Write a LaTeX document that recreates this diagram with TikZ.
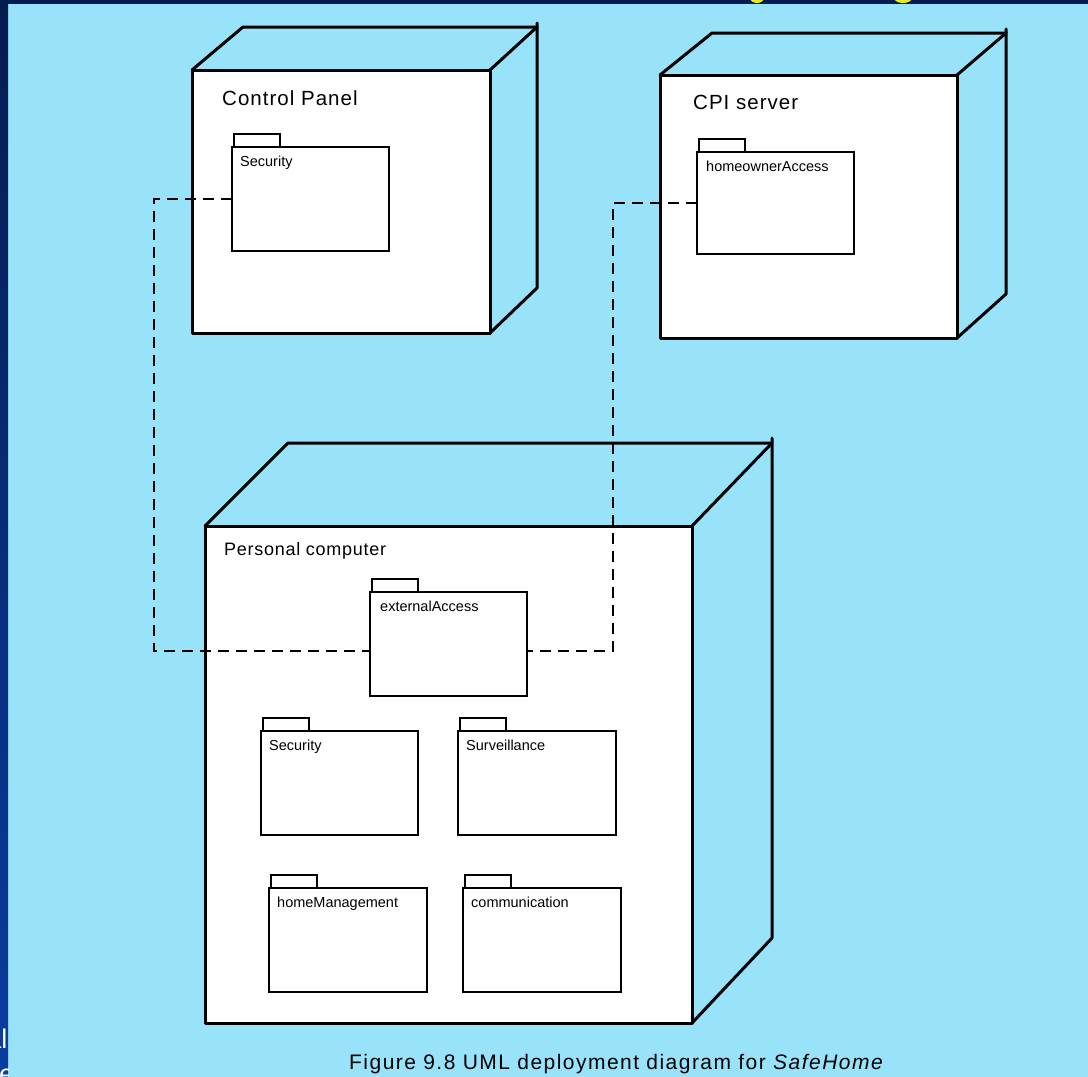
\documentclass[tikz,border=0pt]{standalone}
\usepackage{fontspec}
\setmainfont{Liberation Sans}
\newfontfamily\titlefont[LetterSpace=5]{Liberation Sans}
\newfontfamily\nodefont[LetterSpace=4]{Liberation Sans}
\newfontfamily\capfont[LetterSpace=7]{Liberation Sans}
\definecolor{sky}{RGB}{152,227,250}
\definecolor{navy}{RGB}{5,28,80}
\definecolor{royal}{RGB}{10,60,160}
\definecolor{gold}{RGB}{235,235,20}
\tikzset{
  devface/.style={draw, fill=white, line width=3pt, inner sep=0pt, outer sep=0pt,
    anchor=north west, line join=round},
  devedge/.style={line width=3pt, line join=round, line cap=round},
  pkgbox/.style={draw, fill=white, line width=2.4pt, inner sep=0pt, outer sep=0pt,
    anchor=north west, minimum width=157pt, minimum height=104pt},
  pkgtab/.style={draw, fill=white, line width=2.4pt},
  pkglabel/.style={anchor=base west, inner sep=0pt, font=\fontsize{14.5}{17}\selectfont},
  devtitle/.style={anchor=base west, inner sep=0pt, font=\titlefont\fontsize{20.5}{24}\selectfont},
  deplink/.style={line width=2.8pt, dash pattern=on 11pt off 7pt},
}
% draws the folder tab above a package box
\newcommand{\pkgtabon}[1]{%
  \draw[pkgtab] ([shift={(2,0)}]#1.north west) rectangle ([shift={(48,-13)}]#1.north west);}
\begin{document}
\begin{tikzpicture}[x=1pt,y=-1pt]
\useasboundingbox (0,0) rectangle (1088,1077);
% backdrop and frame strips
\fill[sky] (0,0) rectangle (1088,1077);
\fill[navy] (0,0) rectangle (1088,4);
\shade[top color=navy, bottom color=royal] (0,0) rectangle (8,1077);
\begin{scope}
  \clip (0,0) rectangle (1088,4);
  \fill[gold] (757,-2) ellipse (7pt and 5pt);
  \fill[gold] (903,-2) ellipse (9pt and 5pt);
\end{scope}
\begin{scope}
  \clip (0,990) rectangle (8,1077);
  \node[white, anchor=base east, inner sep=0pt, font=\fontsize{27}{30}\selectfont] (sideA) at (7.5,1048) {al};
  \node[white, anchor=base west, inner sep=0pt, font=\fontsize{27}{30}\selectfont] (sideB) at (-1,1083) {e};
\end{scope}

% ---- Control Panel device
\node[devface, minimum width=298pt, minimum height=263pt] (cp) at (192,70) {};
\draw[devedge] (cp.north west) -- ([shift={(51,-43)}]cp.north west)
  -- ([shift={(47,-43)}]cp.north east);
\draw[devedge] ([shift={(47,-47)}]cp.north east) -- ([shift={(47,-45)}]cp.south east) -- (cp.south east);
\draw[devedge] (cp.north east) -- ([shift={(47,-43)}]cp.north east);
\node[devtitle] (cpname) at (222,105) {Control Panel};
\node[pkgbox] (cpsec) at (232,147) {};
\pkgtabon{cpsec}
\node[pkglabel] (cpseclbl) at ([shift={(8,19)}]cpsec.north west) {Security};

% ---- CPI server device
\node[devface, minimum width=297pt, minimum height=263pt] (cpi) at (660,75) {};
\draw[devedge] (cpi.north west) -- ([shift={(52,-42)}]cpi.north west)
  -- ([shift={(49,-42)}]cpi.north east);
\draw[devedge] ([shift={(49,-46)}]cpi.north east) -- ([shift={(49,-44)}]cpi.south east) -- (cpi.south east);
\draw[devedge] (cpi.north east) -- ([shift={(49,-42)}]cpi.north east);
\node[devtitle] (cpiname) at (693,109) {CPI server};
\node[pkgbox, minimum height=102pt] (hosec) at (697,152) {};
\pkgtabon{hosec}
\node[pkglabel] (hoseclbl) at ([shift={(9,19)}]hosec.north west) {homeownerAccess};

% ---- Personal computer device
\node[devface, minimum width=487pt, minimum height=497pt] (pc) at (205,526) {};
\draw[devedge] (pc.north west) -- ([shift={(83,-83)}]pc.north west)
  -- ([shift={(80,-83)}]pc.north east);
\draw[devedge] ([shift={(80,-88)}]pc.north east) -- ([shift={(80,-85)}]pc.south east) -- (pc.south east);
\draw[devedge] (pc.north east) -- ([shift={(80,-83)}]pc.north east);
\node[anchor=base west, inner sep=0pt, font=\nodefont\fontsize{18}{22}\selectfont] (pcname) at (224,555) {Personal computer};

\node[pkgbox] (ext) at (370,592) {};
\pkgtabon{ext}
\node[pkglabel] (extlbl) at ([shift={(10,19)}]ext.north west) {externalAccess};

\node[pkgbox] (pcsec) at (261,731) {};
\pkgtabon{pcsec}
\node[pkglabel] (pcseclbl) at ([shift={(8,19)}]pcsec.north west) {Security};

\node[pkgbox, minimum width=158pt] (surv) at (458,731) {};
\pkgtabon{surv}
\node[pkglabel] (survlbl) at ([shift={(8,19)}]surv.north west) {Surveillance};

\node[pkgbox, minimum width=158pt] (home) at (269,888) {};
\pkgtabon{home}
\node[pkglabel] (homelbl) at ([shift={(8,19)}]home.north west) {homeManagement};

\node[pkgbox, minimum width=158pt] (comm) at (463,888) {};
\pkgtabon{comm}
\node[pkglabel] (commlbl) at ([shift={(8,19)}]comm.north west) {communication};

% ---- dependency links
\coordinate (lbend) at (154,651);
\coordinate (rbend) at (613,651);
\draw[deplink] (cpsec.west) -| (lbend) -- (lbend -| ext.west);
\draw[deplink] (hosec.west) -| (rbend) -- (rbend -| ext.east);

% ---- caption
\node[anchor=base west, inner sep=0pt, font=\capfont\fontsize{21}{25}\selectfont] (caption) at (349,1069)
  {Figure 9.8 UML deployment diagram for \textit{SafeHome}};
\end{tikzpicture}
\end{document}
